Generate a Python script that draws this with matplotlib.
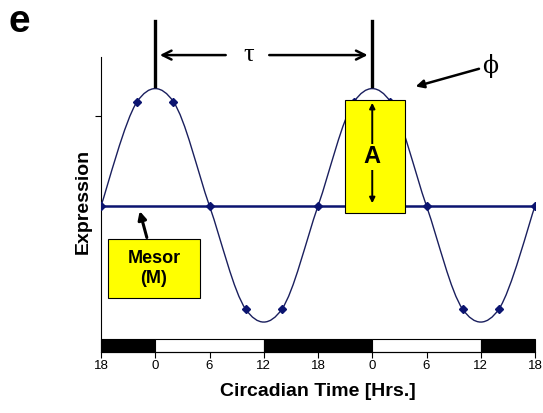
import numpy as np
import matplotlib
matplotlib.use("Agg")
import matplotlib.pyplot as plt
from matplotlib.path import Path
from matplotlib.patches import PathPatch, Rectangle

plt.rcParams['font.family'] = ['Liberation Sans', 'DejaVu Sans']

# sampled expression, every 4 h (circadian time, hours from first peak)
ct_hours = [-6, -2, 2, 6, 10, 14, 18, 22, 26, 30, 34, 38, 42]
expression = [0.0, 0.87, 0.87, 0.0, -0.86, -0.86, 0.0, 0.87, 0.87, 0.0, -0.86, -0.86, 0.0]
mesor = 0.0

# light/dark bar: (start, end, dark?)
ld_start = [-6, 0, 12, 24, 36]
ld_end = [0, 12, 24, 36, 42]
ld_dark = [True, False, True, False, True]

tick_pos = [-6, 0, 6, 12, 18, 24, 30, 36, 42]
tick_labels = ['18', '0', '6', '12', '18', '0', '6', '12', '18']

navy = '#0b1470'


def smooth_path(x, y):
    # Bezier segments through the points, like a spreadsheet "smoothed line"
    pts = np.column_stack([x, y]).astype(float)
    verts = [pts[0]]
    codes = [Path.MOVETO]
    n = len(pts)
    for i in range(n - 1):
        p0 = pts[max(i - 1, 0)]
        p1 = pts[i]
        p2 = pts[i + 1]
        p3 = pts[min(i + 2, n - 1)]
        c1 = p1 + (p2 - p0) / 6.0
        c2 = p2 - (p3 - p1) / 6.0
        verts += [c1, c2, p2]
        codes += [Path.CURVE4] * 3
    return Path(verts, codes)


fig = plt.figure(figsize=(5.43, 4.13), dpi=100)
ax = fig.add_axes([101 / 543, 1 - 352 / 413, 434 / 543, 295 / 413])
ax.set_xlim(-6, 42)
ax.set_ylim(-1.217, 1.242)

ax.add_patch(PathPatch(smooth_path(ct_hours, expression), fc='none',
                       ec='#1a1f5e', lw=1.0, zorder=3))
ax.plot(ct_hours, expression, ls='none', marker='D', ms=4.2, color=navy, zorder=4)
ax.plot([-6, 42], [mesor, mesor], color=navy, lw=1.8, zorder=3)

# light/dark bar along the bottom
for s, e, d in zip(ld_start, ld_end, ld_dark):
    ax.add_patch(Rectangle((s, -1.217), e - s, 0.108, fc='black' if d else 'white',
                           ec='black', lw=0.8, zorder=2, clip_on=False))

for side in ['top', 'right']:
    ax.spines[side].set_visible(False)
ax.spines['left'].set_linewidth(0.8)
ax.spines['bottom'].set_linewidth(0.8)
ax.set_xticks(tick_pos)
ax.set_xticklabels(tick_labels, fontsize=9.5)
ax.set_yticks([0.75])
ax.set_yticklabels([])
ax.tick_params(axis='x', length=4, width=0.8, pad=1.5)
ax.tick_params(axis='y', length=4, width=0.8)

ax.set_xlabel('Circadian Time [Hrs.]', fontsize=14, fontweight='bold', labelpad=8)
ax.set_ylabel('Expression', fontsize=14, fontweight='bold')
ax.yaxis.set_label_coords(-0.021, 0.512)

# period tau between two peaks
for t in [0, 24]:
    ax.plot([t, t], [1.0, 1.54], color='black', lw=2.4, clip_on=False, zorder=5)
arrow_kw = dict(arrowstyle='->', lw=1.8, color='black', mutation_scale=16)
ax.annotate('', xy=(0.2, 1.258), xytext=(8.1, 1.258), xycoords='data',
            arrowprops=arrow_kw, annotation_clip=False)
ax.annotate('', xy=(23.8, 1.258), xytext=(12.3, 1.258), xycoords='data',
            arrowprops=arrow_kw, annotation_clip=False)
ax.text(10.3, 1.258, 'τ', fontsize=19, family=['Liberation Serif', 'DejaVu Serif'],
        ha='center', va='center')

# phase
ax.annotate('', xy=(28.5, 0.99), xytext=(36.1, 1.15),
            arrowprops=dict(arrowstyle='-|>', lw=1.8, color='black', mutation_scale=12),
            annotation_clip=False)
ax.text(37.0, 1.17, 'ϕ', fontsize=17, family=['DejaVu Serif'], ha='center', va='center')

# amplitude box
ax.add_patch(Rectangle((21.0, -0.058), 6.6, 0.941, fc='#ffff00', ec='black',
                       lw=0.8, zorder=6))
ax.annotate('', xy=(24, 0.883), xytext=(24, mesor),
            arrowprops=dict(arrowstyle='<|-|>', lw=1.4, color='black', mutation_scale=8),
            zorder=7)
ax.text(24, 0.41, 'A', fontsize=17, fontweight='bold', ha='center', va='center',
        zorder=8, bbox=dict(fc='#ffff00', ec='none', pad=1))

# mesor box
ax.add_patch(Rectangle((-5.23, -0.767), 10.18, 0.492, fc='#ffff00', ec='black',
                       lw=0.8, zorder=6))
ax.text(-0.14, -0.52, 'Mesor\n(M)', fontsize=13, fontweight='bold', ha='center',
        va='center', linespacing=1.2, zorder=7)
ax.annotate('', xy=(-1.8, -0.02), xytext=(-0.85, -0.285),
            arrowprops=dict(arrowstyle='-|>', lw=2.2, color='black', mutation_scale=12),
            zorder=7)

fig.text(8 / 543, 1 - 32 / 413, 'e', fontsize=28, fontweight='bold', va='baseline')

fig.savefig('out.png', dpi=100)
